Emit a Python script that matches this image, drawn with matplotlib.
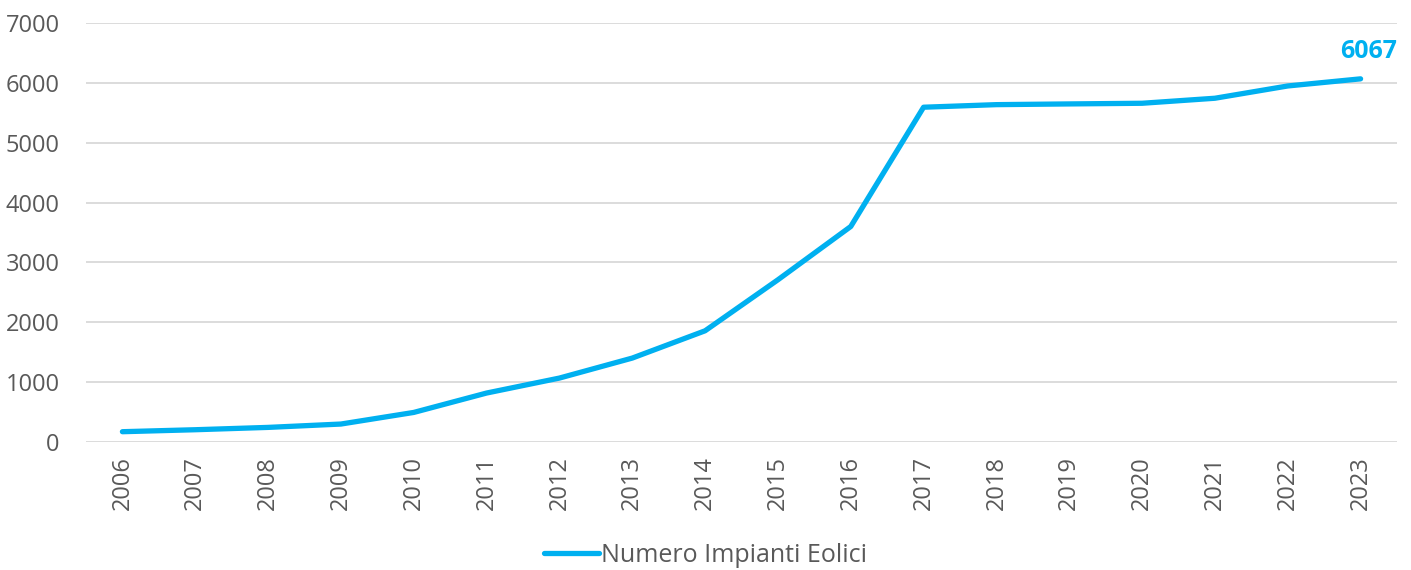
import numpy as np
import matplotlib.pyplot as plt

# dati
anni = [str(a) for a in range(2006, 2024)]
impianti = [172, 205, 244, 300, 494, 818, 1068, 1402, 1858, 2710, 3600,
            5593, 5636, 5648, 5659, 5743, 5948, 6067]
serie_nome = "Numero Impianti Eolici"

blu = "#00B0F0"
grigio = "#595959"
plt.rcParams['font.family'] = ['Open Sans', 'DejaVu Sans']

fig = plt.figure(figsize=(14.11, 5.70), dpi=100)
ax = fig.add_axes([86 / 1411, 1 - 442 / 570, (1397 - 86) / 1411, (442 - 23) / 570])

x = np.arange(len(anni))
ax.plot(x, impianti, color=blu, linewidth=3.8, solid_capstyle='round',
        solid_joinstyle='round', label=serie_nome, zorder=3)

ax.set_xlim(-0.5, len(anni) - 0.5)
ax.set_ylim(0, 7000)
ax.set_yticks(range(0, 7001, 1000))
ax.set_xticks(x)
ax.set_xticklabels(anni, rotation=90)
ax.tick_params(axis='both', length=0, labelsize=17, colors=grigio)
ax.tick_params(axis='y', pad=19)
ax.tick_params(axis='x', pad=10)
ax.grid(axis='y', color='#D9D9D9', linewidth=1.3)
for s in ax.spines.values():
    s.set_visible(False)

# etichetta ultimo valore
ax.annotate(str(impianti[-1]), (x[-1], impianti[-1]), xytext=(6, 11),
            textcoords='offset points', ha='center', va='bottom',
            color=blu, fontsize=18, fontweight='bold')

fig.legend(loc='center', bbox_to_anchor=(0.5, 1 - 555 / 570), frameon=False,
           fontsize=18, labelcolor=grigio, handlelength=2.2, handletextpad=0.1)

fig.savefig("out.png", dpi=100)
